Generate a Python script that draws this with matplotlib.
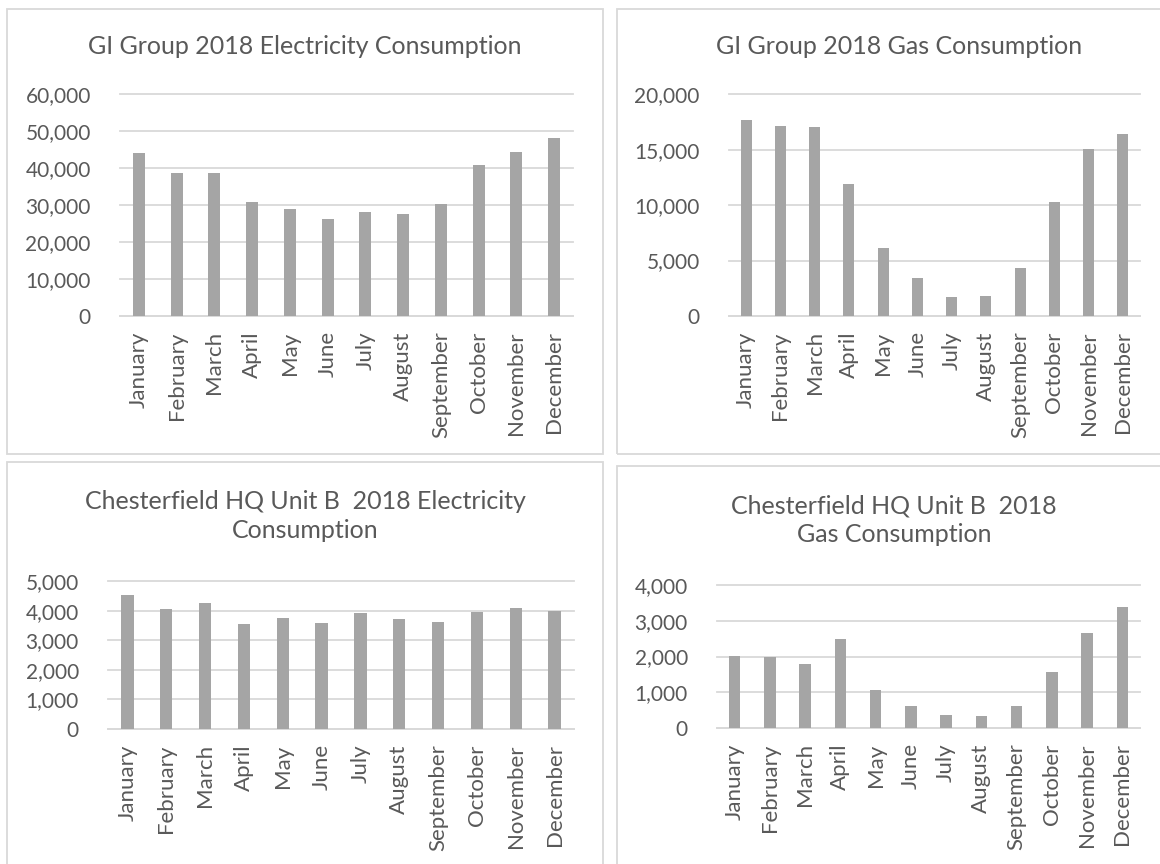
import matplotlib.pyplot as plt
from matplotlib.patches import Rectangle
from matplotlib.ticker import FuncFormatter

plt.rcParams['font.family'] = ['Lato', 'DejaVu Sans']

# data
months = ['January', 'February', 'March', 'April', 'May', 'June', 'July',
          'August', 'September', 'October', 'November', 'December']
gi_elec = [44200, 38700, 38600, 30900, 29000, 26300, 28100, 27700, 30300, 40900, 44500, 48100]
gi_gas = [17660, 17120, 17060, 11900, 6160, 3430, 1670, 1760, 4310, 10320, 15080, 16390]
ch_elec = [4517, 4045, 4247, 3551, 3764, 3596, 3933, 3708, 3629, 3966, 4079, 3978]
ch_gas = [2005, 1986, 1782, 2487, 1049, 622, 353, 343, 622, 1568, 2654, 3378]

titles = ['GI Group 2018 Electricity Consumption',
          'GI Group 2018 Gas Consumption',
          'Chesterfield HQ Unit B  2018 Electricity\nConsumption',
          'Chesterfield HQ Unit B  2018\nGas Consumption']
ymaxes = [60000, 20000, 5000, 4000]
ysteps = [10000, 5000, 1000, 1000]

W, H = 1160, 864
TXT = '#595959'
GRID = '#D9D9D9'
BAR = '#A5A5A5'

fig = plt.figure(figsize=(W / 100, H / 100), dpi=100)


def rect(l, t, r, b):
    return [l / W, 1 - b / H, (r - l) / W, (b - t) / H]


# chart frames (left, top, right, bottom) in pixels
frames = [(7, 9, 603, 454), (617, 9, 1185, 454), (7, 462, 603, 880), (617, 466, 1185, 880)]
for l, t, r, b in frames:
    fig.patches.append(Rectangle((l / W, 1 - b / H), (r - l) / W, (b - t) / H,
                                 transform=fig.transFigure, fill=False,
                                 edgecolor=GRID, linewidth=1.3))

plot_areas = [(120, 94.3, 573, 316), (729, 94.3, 1140, 316),
              (108, 581, 574, 729), (717, 585, 1140, 728)]
title_pos = [(305, 46), (899, 47), (305, 516), (894, 520)]

for i, vals in enumerate([gi_elec, gi_gas, ch_elec, ch_gas]):
    ax = fig.add_axes(rect(*plot_areas[i]))
    x = range(len(months))
    ax.bar(x, vals, width=0.32, color=BAR, zorder=3)
    ax.set_xlim(-0.5, len(months) - 0.5)
    ax.set_ylim(0, ymaxes[i])
    ax.set_yticks(range(0, ymaxes[i] + 1, ysteps[i]))
    ax.yaxis.set_major_formatter(FuncFormatter(lambda v, p: f'{int(v):,}'))
    ax.set_xticks(list(x))
    ax.set_xticklabels(months, rotation=90, va='top', ha='center')
    for s in ['top', 'right', 'left']:
        ax.spines[s].set_visible(False)
    ax.spines['bottom'].set_color(GRID)
    ax.spines['bottom'].set_linewidth(1.3)
    ax.grid(axis='y', color=GRID, linewidth=1.3, zorder=0)
    ax.set_axisbelow(True)
    for g in ax.get_ygridlines():
        g.set_clip_on(False)
    ax.tick_params(axis='y', length=0, pad=21, labelsize=15, labelcolor=TXT)
    ax.tick_params(axis='x', length=0, pad=11, labelsize=16, labelcolor=TXT)
    tx, ty = title_pos[i]
    fig.text(tx / W, 1 - ty / H, titles[i], ha='center', va='center',
             fontsize=18, color=TXT, linespacing=1.3)

fig.savefig('out.png', dpi=100)
